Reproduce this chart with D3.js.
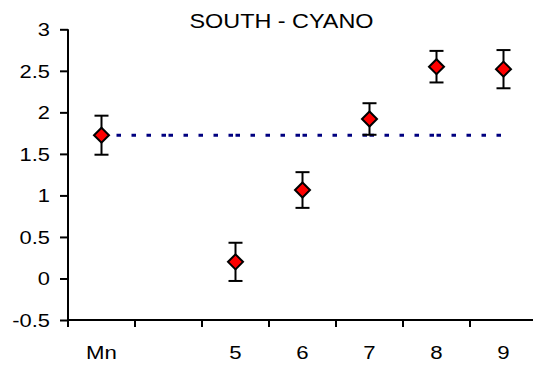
<!DOCTYPE html>
<html>
<head>
<meta charset="utf-8">
<script src="https://cdn.jsdelivr.net/npm/d3@7"></script>
<style>
  html, body { margin: 0; padding: 0; background: #fff; }
  svg { display: block; font-family: "Liberation Sans", Arial, sans-serif; }
</style>
</head>
<body>
<svg id="chart" width="533" height="365"></svg>
<script>
// Site categories along the x axis (the second slot is left empty)
const categories = ["Mn", "", "5", "6", "7", "8", "9"];
// Mean value per category
const means = [1.725, null, 0.20, 1.065, 1.92, 2.55, 2.52];
// Error (± half-range) per category
const errors = [0.235, null, 0.23, 0.215, 0.19, 0.19, 0.23];
// Reference level drawn as the dotted line across all categories
const refLevel = [1.725, 1.725, 1.725, 1.725, 1.725, 1.725, 1.725];
// Y axis ticks
const yTicks = [-0.5, 0, 0.5, 1, 1.5, 2, 2.5, 3];
const title = "SOUTH - CYANO";

const svg = d3.select("#chart");
const margin = { left: 68, right: -4, top: 29.3, bottom: 45 };
const W = 533, H = 365;
const stretch = 1.2; // text is set slightly wide

const x = d3.scaleBand()
  .domain(d3.range(categories.length))
  .range([margin.left, W - margin.right])
  .padding(0);
const y = d3.scaleLinear()
  .domain([-0.5, 3])
  .range([H - margin.bottom, margin.top]);
const cx = i => x(i) + x.bandwidth() / 2;

// Title
svg.append("text")
  .attr("transform", `translate(281.5,28) scale(${stretch},1)`)
  .attr("text-anchor", "middle")
  .attr("font-size", 19.5)
  .attr("fill", "#000")
  .text(title);

// Y axis
const yAxis = svg.append("g")
  .attr("transform", `translate(${margin.left},0)`)
  .call(d3.axisLeft(y).tickValues(yTicks).tickSize(8).tickFormat(d => String(d)));
yAxis.select(".domain").attr("stroke", "#000").attr("stroke-width", 2)
  .attr("d", `M0,${y(3)}V${y(-0.5)}`);
yAxis.selectAll(".tick line").attr("stroke", "#000").attr("stroke-width", 2);
yAxis.selectAll(".tick text")
  .attr("x", null).attr("dy", null)
  .attr("transform", `translate(-18,6.3) scale(${1.25},1)`)
  .attr("font-size", 17.5).attr("fill", "#000")
  .attr("font-family", "'Liberation Sans', Arial, sans-serif");

// X axis line
const baseY = y(-0.5);
svg.append("line")
  .attr("x1", margin.left).attr("x2", W - margin.right)
  .attr("y1", baseY).attr("y2", baseY)
  .attr("stroke", "#000").attr("stroke-width", 2);

// Tick marks at the category boundaries
svg.append("g").selectAll("line")
  .data(d3.range(categories.length + 1))
  .join("line")
  .attr("x1", i => i < categories.length ? x(i) : x(i - 1) + x.bandwidth())
  .attr("x2", i => i < categories.length ? x(i) : x(i - 1) + x.bandwidth())
  .attr("y1", baseY).attr("y2", baseY + 7)
  .attr("stroke", "#000").attr("stroke-width", 2);

// Category labels
svg.append("g").selectAll("text")
  .data(categories)
  .join("text")
  .attr("transform", (d, i) => `translate(${cx(i)},359) scale(${stretch},1)`)
  .attr("text-anchor", "middle")
  .attr("font-size", 18.5)
  .attr("fill", "#000")
  .text(d => d);

// Dotted reference line, drawn one segment per category step
const segs = d3.range(categories.length - 1).map(i => [i, i + 1]);
const line = d3.line().x(i => cx(i)).y(i => y(refLevel[i]));
svg.append("g").selectAll("path")
  .data(segs)
  .join("path")
  .attr("d", line)
  .attr("fill", "none")
  .attr("stroke", "#000080")
  .attr("stroke-width", 3)
  .attr("stroke-dasharray", "4.5,10.5");

// Error bars and markers
const pts = means.map((m, i) => ({ i, m, e: errors[i] })).filter(d => d.m != null);
const cap = 7;
const gErr = svg.append("g").attr("stroke", "#000").attr("stroke-width", 2);
gErr.selectAll("line.v").data(pts).join("line").attr("class", "v")
  .attr("x1", d => cx(d.i)).attr("x2", d => cx(d.i))
  .attr("y1", d => y(d.m + d.e)).attr("y2", d => y(d.m - d.e));
gErr.selectAll("line.t").data(pts).join("line").attr("class", "t")
  .attr("x1", d => cx(d.i) - cap).attr("x2", d => cx(d.i) + cap)
  .attr("y1", d => y(d.m + d.e)).attr("y2", d => y(d.m + d.e));
gErr.selectAll("line.b").data(pts).join("line").attr("class", "b")
  .attr("x1", d => cx(d.i) - cap).attr("x2", d => cx(d.i) + cap)
  .attr("y1", d => y(d.m - d.e)).attr("y2", d => y(d.m - d.e));

const r = 7.5;
svg.append("g").selectAll("path")
  .data(pts)
  .join("path")
  .attr("transform", d => `translate(${cx(d.i)},${y(d.m)})`)
  .attr("d", `M0,${-r}L${r},0L0,${r}L${-r},0Z`)
  .attr("fill", "#ff0000")
  .attr("stroke", "#000")
  .attr("stroke-width", 2);
</script>
</body>
</html>
